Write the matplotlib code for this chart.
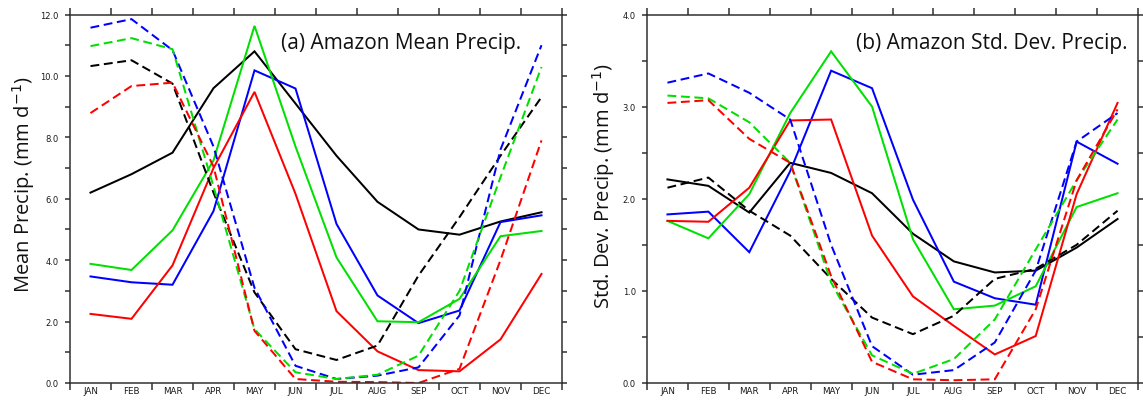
import numpy as np
import matplotlib
matplotlib.use("Agg")
import matplotlib.pyplot as plt

months = ['JAN', 'FEB', 'MAR', 'APR', 'MAY', 'JUN', 'JUL', 'AUG', 'SEP', 'OCT', 'NOV', 'DEC']

# (a) Amazon mean precipitation (mm/day)
mean_black_solid = [6.2, 6.8, 7.5, 9.6, 10.8, 9.1, 7.4, 5.9, 5.0, 4.83, 5.26, 5.56]
mean_blue_solid = [3.47, 3.28, 3.2, 5.6, 10.18, 9.59, 5.18, 2.85, 1.95, 2.36, 5.24, 5.46]
mean_green_solid = [3.88, 3.68, 4.97, 7.25, 11.63, 7.7, 4.09, 2.01, 1.98, 2.74, 4.78, 4.95]
mean_red_solid = [2.25, 2.09, 3.83, 7.0, 9.48, 6.16, 2.34, 1.03, 0.42, 0.38, 1.42, 3.55]
mean_black_dash = [10.32, 10.51, 9.75, 6.2, 2.95, 1.1, 0.75, 1.22, 3.5, 5.4, 7.4, 9.31]
mean_blue_dash = [11.57, 11.85, 10.84, 7.7, 3.1, 0.56, 0.13, 0.24, 0.51, 2.2, 7.6, 11.0]
mean_green_dash = [10.97, 11.23, 10.87, 6.4, 1.75, 0.35, 0.13, 0.27, 0.89, 3.0, 6.7, 10.29]
mean_red_dash = [8.79, 9.67, 9.78, 7.05, 1.7, 0.13, 0.04, 0.03, 0.0, 0.46, 4.0, 7.9]

# (b) Amazon std. dev. of precipitation (mm/day)
std_black_solid = [2.21, 2.14, 1.85, 2.39, 2.28, 2.06, 1.62, 1.32, 1.2, 1.22, 1.47, 1.78]
std_blue_solid = [1.83, 1.86, 1.42, 2.3, 3.39, 3.2, 1.99, 1.1, 0.92, 0.85, 2.62, 2.38]
std_green_solid = [1.76, 1.57, 2.05, 2.93, 3.6, 3.0, 1.56, 0.8, 0.84, 1.05, 1.91, 2.06]
std_red_solid = [1.76, 1.75, 2.12, 2.85, 2.86, 1.6, 0.94, 0.62, 0.31, 0.51, 2.05, 3.04]
std_black_dash = [2.12, 2.23, 1.87, 1.6, 1.13, 0.71, 0.53, 0.73, 1.13, 1.24, 1.5, 1.87]
std_blue_dash = [3.26, 3.36, 3.15, 2.86, 1.5, 0.4, 0.09, 0.14, 0.44, 1.22, 2.62, 2.93]
std_green_dash = [3.12, 3.09, 2.83, 2.39, 1.09, 0.3, 0.1, 0.26, 0.69, 1.45, 2.2, 2.86]
std_red_dash = [3.04, 3.07, 2.65, 2.39, 1.16, 0.23, 0.04, 0.03, 0.04, 0.8, 2.2, 2.97]

BLACK, BLUE, GREEN, RED = '#000000', '#0000ff', '#00e000', '#ff0000'
DASH = (0, (4.4, 2.3))
LW = 1.45

fig = plt.figure(figsize=(11.43, 4.06), dpi=100)
ax1 = fig.add_axes([70 / 1143, 22 / 406, 492 / 1143, 368.5 / 406])
ax2 = fig.add_axes([647 / 1143, 22 / 406, 491 / 1143, 368.5 / 406])

x = np.arange(len(months))


def draw(ax, solids, dashes):
    for vals, c in solids:
        ax.plot(x, vals, color=c, lw=LW, solid_joinstyle='miter')
    for vals, c in dashes:
        ax.plot(x, vals, color=c, lw=LW, linestyle=DASH)


draw(ax1,
     [(mean_black_solid, BLACK), (mean_blue_solid, BLUE), (mean_green_solid, GREEN), (mean_red_solid, RED)],
     [(mean_black_dash, BLACK), (mean_blue_dash, BLUE), (mean_green_dash, GREEN), (mean_red_dash, RED)])
draw(ax2,
     [(std_black_solid, BLACK), (std_blue_solid, BLUE), (std_green_solid, GREEN), (std_red_solid, RED)],
     [(std_black_dash, BLACK), (std_blue_dash, BLUE), (std_green_dash, GREEN), (std_red_dash, RED)])


def style(ax, ymax, ystep, yminor):
    ax.set_xlim(-0.5, 11.5)
    ax.set_ylim(0, ymax)
    ax.set_xticks(np.arange(-0.5, 12.0, 1.0))
    ax.set_xticklabels([])
    ax.set_xticks(x, minor=True)
    ax.set_xticklabels(months, minor=True, fontsize=6.3, color='#1a1a1a')
    yt = np.arange(0, ymax + 1e-9, ystep)
    ax.set_yticks(yt)
    ax.set_yticklabels(['%.1f' % v for v in yt], fontsize=6, color='#1a1a1a')
    ax.set_yticks(np.arange(0, ymax + 1e-9, yminor), minor=True)
    ax.tick_params(axis='x', which='major', direction='out', length=5.2, width=1.1,
                   top=True, bottom=True, color='#303030')
    ax.tick_params(axis='x', which='minor', length=0, pad=2.5, top=False)
    ax.tick_params(axis='y', which='both', direction='out', length=3.8, width=1.1,
                   left=True, right=True, labelright=False, color='#303030', pad=4.3)
    for s in ax.spines.values():
        s.set_linewidth(1.1)
        s.set_color('#303030')


style(ax1, 12.0, 2.0, 1.0)
style(ax2, 4.0, 1.0, 0.5)

lab_font = dict(family=['Open Sans', 'DejaVu Sans'], fontsize=14.5, color='#111111')
fig.text(24 / 1143, 1 - 185 / 406, 'Mean Precip. (mm d$^{-1}$)', rotation=90,
         ha='center', va='center', **lab_font)
fig.text(604 / 1143, 1 - 186 / 406, 'Std. Dev. Precip. (mm d$^{-1}$)', rotation=90,
         ha='center', va='center', **lab_font)

title_font = dict(family=['Open Sans', 'DejaVu Sans'], fontsize=15, color='#111111')
fig.text(521 / 1143, 1 - 49 / 406, '(a) Amazon Mean Precip.', ha='right', va='baseline', **title_font)
fig.text(1128 / 1143, 1 - 49 / 406, '(b) Amazon Std. Dev. Precip.', ha='right', va='baseline', **title_font)

fig.savefig('out.png', dpi=100)
